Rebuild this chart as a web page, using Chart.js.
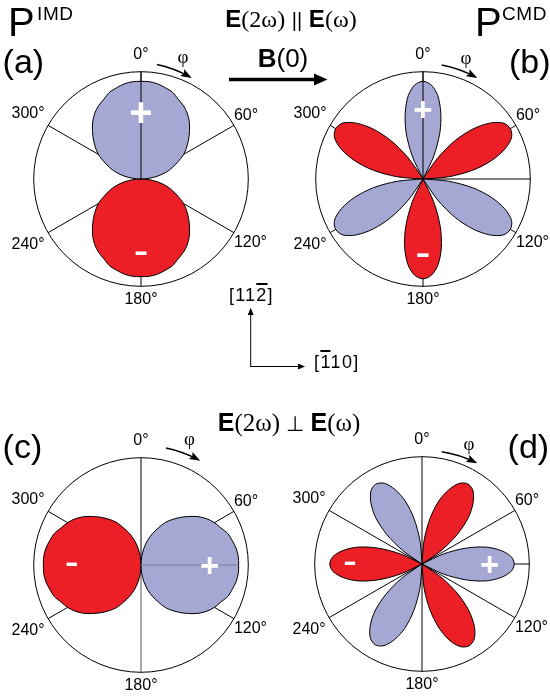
<!DOCTYPE html>
<html>
<head>
<meta charset="utf-8">
<script src="https://cdn.jsdelivr.net/npm/chart.js@4.4.1/dist/chart.umd.min.js"></script>
<style>
  body { margin: 0; background: #fff; }
  #fig { position: relative; width: 550px; height: 699px; overflow: hidden; background: #fff; }
  canvas { position: absolute; }
  svg { position: absolute; left: 0; top: 0; }
  .t { position: absolute; line-height: 1; white-space: nowrap; color: #000;
       font-family: 'Liberation Sans', Arial, sans-serif; }
  .c { transform: translateX(-50%); }
  .s { font-family: 'Liberation Serif', 'Times New Roman', serif; }
  .ov { text-decoration: overline; text-decoration-thickness: 2px; }
</style>
</head>
<body>
<div id="fig">
  <canvas id="chartA" width="310" height="269" style="left:-14px;top:43px"></canvas>
  <canvas id="chartB" width="310" height="269" style="left:268px;top:43px"></canvas>
  <canvas id="chartC" width="310" height="269" style="left:-14px;top:429px"></canvas>
  <canvas id="chartD" width="310" height="269" style="left:267px;top:428px"></canvas>

  <svg width="550" height="699">
    <defs>
      <marker id="hd" markerUnits="userSpaceOnUse" markerWidth="11" markerHeight="8" refX="9" refY="4" orient="auto">
        <path d="M0,0 L11,4 L0,8 L2,4 z" fill="#000"/>
      </marker>
      <marker id="hs" markerUnits="userSpaceOnUse" markerWidth="7" markerHeight="6" refX="6" refY="3" orient="auto">
        <path d="M0,0 L7,3 L0,6 z" fill="#000"/>
      </marker>
    </defs>
    <g stroke="#000" fill="none" stroke-width="1.4">
      <path d="M157,64.5 A115,115 0 0 1 190,77" marker-end="url(#hd)"/>
      <path d="M441.7,65 A115,115 0 0 1 475.5,77" marker-end="url(#hd)"/>
      <path d="M166,448 A120,120 0 0 1 198.5,459.8" marker-end="url(#hd)"/>
      <path d="M441.7,451.7 A115,115 0 0 1 475.5,462.4" marker-end="url(#hd)"/>
    </g>
    <line x1="229" y1="79.5" x2="316" y2="79.5" stroke="#000" stroke-width="3.5"/>
    <polygon points="314,73.5 327.5,79.5 314,85.5" fill="#000"/>
    <g stroke="#000" fill="none" stroke-width="1">
      <path d="M250.7,366.5 V309" marker-end="url(#hs)"/>
      <path d="M250.2,366.5 H304" marker-end="url(#hs)"/>
    </g>
  </svg>

  <div class="t" style="left:8px;top:1.5px;font-size:40px">P</div>
  <div class="t" style="left:37px;top:4.2px;font-size:19px;letter-spacing:0.6px">IMD</div>
  <div class="t" style="left:475px;top:1.5px;font-size:40px">P</div>
  <div class="t" style="left:502px;top:4.2px;font-size:19px;letter-spacing:0.6px">CMD</div>

  <div class="t c" style="left:291px;top:6.5px;font-size:24px"><b>E</b><span class="s">(2ω)</span> <span style="font-size:20px">||</span> <b>E</b><span class="s">(ω)</span></div>
  <div class="t c" style="left:283px;top:45px;font-size:26px"><b>B</b>(0)</div>
  <div class="t c" style="left:289px;top:410px;font-size:25px"><b>E</b><span class="s">(2ω) </span><span style="font-size:21px">⊥</span><span class="s"> </span><b>E</b><span class="s">(ω)</span></div>

  <div class="t" style="left:2.6px;top:44.3px;font-size:34px">(a)</div>
  <div class="t" style="left:509px;top:44.3px;font-size:34px">(b)</div>
  <div class="t" style="left:2.6px;top:429px;font-size:34px">(c)</div>
  <div class="t" style="left:507.6px;top:429px;font-size:34px">(d)</div>

  <div class="t s c" style="left:183px;top:47px;font-size:19px">φ</div>
  <div class="t s c" style="left:466px;top:47.5px;font-size:19px">φ</div>
  <div class="t s c" style="left:189.5px;top:429px;font-size:19px">φ</div>
  <div class="t s c" style="left:469px;top:434px;font-size:19px">φ</div>

  <div class="t" style="left:229px;top:285.5px;font-size:18px;letter-spacing:1.2px">[11<span class="ov">2</span>]</div>
  <div class="t" style="left:314px;top:353px;font-size:18px;letter-spacing:1.4px">[<span class="ov">1</span>10]</div>
</div>

<script>
// polar angle in degrees, clockwise from the top
const angles = [
  0, 5, 10, 15, 20, 25, 30, 35, 40, 45, 50, 55,
  60, 65, 70, 75, 80, 85, 90, 95, 100, 105, 110, 115,
  120, 125, 130, 135, 140, 145, 150, 155, 160, 165, 170, 175,
  180, 185, 190, 195, 200, 205, 210, 215, 220, 225, 230, 235,
  240, 245, 250, 255, 260, 265, 270, 275, 280, 285, 290, 295,
  300, 305, 310, 315, 320, 325, 330, 335, 340, 345, 350, 355
];
const angleTicks = [0, 60, 120, 180, 240, 300];

// (a) P_IMD, E(2w) || E(w)
const imdParPos = [
  0.91, 0.91, 0.90, 0.88, 0.86, 0.82, 0.79, 0.75, 0.70, 0.64, 0.58, 0.52,
  0.46, 0.38, 0.31, 0.24, 0.16, 0.08, 0, 0, 0, 0, 0, 0,
  0, 0, 0, 0, 0, 0, 0, 0, 0, 0, 0, 0,
  0, 0, 0, 0, 0, 0, 0, 0, 0, 0, 0, 0,
  0, 0, 0, 0, 0, 0, 0, 0.08, 0.16, 0.24, 0.31, 0.38,
  0.46, 0.52, 0.58, 0.64, 0.70, 0.75, 0.79, 0.82, 0.86, 0.88, 0.90, 0.91
];
const imdParNeg = [
  0, 0, 0, 0, 0, 0, 0, 0, 0, 0, 0, 0,
  0, 0, 0, 0, 0, 0, 0, 0.08, 0.16, 0.24, 0.31, 0.38,
  0.46, 0.52, 0.58, 0.64, 0.70, 0.75, 0.79, 0.82, 0.86, 0.88, 0.90, 0.91,
  0.91, 0.91, 0.90, 0.88, 0.86, 0.82, 0.79, 0.75, 0.70, 0.64, 0.58, 0.52,
  0.46, 0.38, 0.31, 0.24, 0.16, 0.08, 0, 0, 0, 0, 0, 0,
  0, 0, 0, 0, 0, 0, 0, 0, 0, 0, 0, 0
];

// (b) P_CMD, E(2w) || E(w)
const cmdParPos = [
  0.91, 0.88, 0.79, 0.64, 0.46, 0.24, 0, 0, 0, 0, 0, 0,
  0, 0, 0, 0, 0, 0, 0, 0.24, 0.47, 0.66, 0.81, 0.91,
  0.94, 0.91, 0.81, 0.66, 0.47, 0.24, 0, 0, 0, 0, 0, 0,
  0, 0, 0, 0, 0, 0, 0, 0.24, 0.47, 0.66, 0.81, 0.91,
  0.94, 0.91, 0.81, 0.66, 0.47, 0.24, 0, 0, 0, 0, 0, 0,
  0, 0, 0, 0, 0, 0, 0, 0.24, 0.46, 0.64, 0.79, 0.88
];
const cmdParNeg = [
  0, 0, 0, 0, 0, 0, 0, 0.24, 0.47, 0.66, 0.81, 0.91,
  0.94, 0.91, 0.81, 0.66, 0.47, 0.24, 0, 0, 0, 0, 0, 0,
  0, 0, 0, 0, 0, 0, 0, 0.24, 0.47, 0.66, 0.81, 0.90,
  0.93, 0.90, 0.81, 0.66, 0.47, 0.24, 0, 0, 0, 0, 0, 0,
  0, 0, 0, 0, 0, 0, 0, 0.24, 0.47, 0.66, 0.81, 0.91,
  0.94, 0.91, 0.81, 0.66, 0.47, 0.24, 0, 0, 0, 0, 0, 0
];

// (c) P_IMD, E(2w) perpendicular E(w)
const imdPerpPos = [
  0, 0.08, 0.16, 0.24, 0.31, 0.38, 0.46, 0.52, 0.58, 0.64, 0.70, 0.75,
  0.79, 0.82, 0.86, 0.88, 0.90, 0.91, 0.91, 0.91, 0.90, 0.88, 0.86, 0.82,
  0.79, 0.75, 0.70, 0.64, 0.58, 0.52, 0.46, 0.38, 0.31, 0.24, 0.16, 0.08,
  0, 0, 0, 0, 0, 0, 0, 0, 0, 0, 0, 0,
  0, 0, 0, 0, 0, 0, 0, 0, 0, 0, 0, 0,
  0, 0, 0, 0, 0, 0, 0, 0, 0, 0, 0, 0
];
const imdPerpNeg = [
  0, 0, 0, 0, 0, 0, 0, 0, 0, 0, 0, 0,
  0, 0, 0, 0, 0, 0, 0, 0, 0, 0, 0, 0,
  0, 0, 0, 0, 0, 0, 0, 0, 0, 0, 0, 0,
  0, 0.08, 0.16, 0.24, 0.31, 0.38, 0.46, 0.52, 0.58, 0.64, 0.70, 0.75,
  0.79, 0.82, 0.86, 0.88, 0.90, 0.91, 0.91, 0.91, 0.90, 0.88, 0.86, 0.82,
  0.79, 0.75, 0.70, 0.64, 0.58, 0.52, 0.46, 0.38, 0.31, 0.24, 0.16, 0.08
];

// (d) P_CMD, E(2w) perpendicular E(w)
const cmdPerpPos = [
  0, 0, 0, 0, 0, 0, 0, 0, 0, 0, 0, 0,
  0, 0.22, 0.43, 0.61, 0.74, 0.83, 0.86, 0.83, 0.74, 0.61, 0.43, 0.22,
  0, 0, 0, 0, 0, 0, 0, 0, 0, 0, 0, 0,
  0, 0.23, 0.44, 0.62, 0.75, 0.84, 0.87, 0.84, 0.75, 0.62, 0.44, 0.23,
  0, 0, 0, 0, 0, 0, 0, 0, 0, 0, 0, 0,
  0, 0.22, 0.43, 0.61, 0.74, 0.83, 0.86, 0.83, 0.74, 0.61, 0.43, 0.22
];
const cmdPerpNeg = [
  0, 0.22, 0.43, 0.61, 0.74, 0.83, 0.86, 0.83, 0.74, 0.61, 0.43, 0.22,
  0, 0, 0, 0, 0, 0, 0, 0, 0, 0, 0, 0,
  0, 0.23, 0.44, 0.62, 0.76, 0.85, 0.88, 0.85, 0.76, 0.62, 0.44, 0.23,
  0, 0, 0, 0, 0, 0, 0, 0, 0, 0, 0, 0,
  0, 0.22, 0.43, 0.61, 0.74, 0.83, 0.86, 0.83, 0.74, 0.61, 0.43, 0.22,
  0, 0, 0, 0, 0, 0, 0, 0, 0, 0, 0, 0
];

const BLUE = '#a6a8d4';
const RED = '#ec1f26';
const FONT = "'Liberation Sans', Arial, sans-serif";

// lines and +/- signs drawn on top of the lobes
const overlayPlugin = {
  id: 'overlay',
  afterDatasetsDraw(chart, args, opts) {
    const r = chart.scales.r;
    const ctx = chart.ctx;
    ctx.save();
    (opts.lines || []).forEach(l => {
      const i = angles.indexOf(l.angle);
      const p0 = r.getPointPositionForValue(i, 0);
      const p1 = r.getPointPositionForValue(i, l.to);
      ctx.strokeStyle = l.color;
      ctx.lineWidth = l.width;
      ctx.beginPath();
      ctx.moveTo(p0.x, p0.y);
      ctx.lineTo(p1.x, p1.y);
      ctx.stroke();
    });
    ctx.fillStyle = '#fff';
    ctx.textAlign = 'center';
    ctx.textBaseline = 'alphabetic';
    (opts.signs || []).forEach(s => {
      const p = r.getPointPositionForValue(angles.indexOf(s.angle), s.r);
      ctx.font = s.weight + ' ' + s.size + 'px ' + FONT;
      ctx.fillText(s.text, p.x, p.y + s.size * s.mid);
    });
    ctx.restore();
  }
};

function plus(angle, r, size) { return { text: '+', angle, r, size, weight: 'bold', mid: 0.35 }; }
function minus(angle, r, size) { return { text: '-', angle, r, size, weight: 'normal', mid: 0.265 }; }

// padding between ring and angle label
function labelPad(a) {
  if (a === 0) return 7.5;
  if (a === 180) return 3.5;
  if (a === 240 || a === 300) return 4;
  return 0;
}

function polarChart(id, pos, neg, lineAngles, lineColor, overlay) {
  return new Chart(id, {
    type: 'radar',
    data: {
      labels: angles,
      datasets: [
        { data: pos, backgroundColor: BLUE, borderColor: '#000', borderWidth: 1, fill: true, pointRadius: 0 },
        { data: neg, backgroundColor: RED, borderColor: '#000', borderWidth: 1, fill: true, pointRadius: 0 }
      ]
    },
    options: {
      responsive: false,
      animation: false,
      events: [],
      plugins: { legend: { display: false }, tooltip: { enabled: false }, overlay: overlay },
      elements: { line: { tension: 0.3, borderJoinStyle: 'round' } },
      scales: {
        r: {
          min: 0,
          max: 1,
          startAngle: 0,
          ticks: { display: false, stepSize: 1 },
          grid: { circular: true, color: '#000', lineWidth: 1 },
          angleLines: {
            color: ctx => lineColor(angles[ctx.index]),
            lineWidth: ctx => lineAngles.includes(angles[ctx.index]) ? 1 : 0
          },
          pointLabels: {
            callback: v => angleTicks.includes(v) ? v + '°' : '',
            padding: ctx => labelPad(angles[ctx.index]),
            font: { family: FONT, size: 16 },
            color: '#000'
          }
        }
      }
    },
    plugins: [overlayPlugin]
  });
}

const black = () => '#000';

polarChart('chartA', imdParPos, imdParNeg, [0, 60, 120, 180, 240, 300], black, {
  lines: [{ angle: 0, to: 1, color: '#000', width: 1 }],
  signs: [plus(0, 0.62, 40), minus(180, 0.69, 44)]
});
polarChart('chartB', cmdParPos, cmdParNeg, [0, 60, 90, 120, 180, 240, 300], black, {
  lines: [{ angle: 0, to: 1, color: '#000', width: 1 }],
  signs: [plus(0, 0.65, 33), minus(180, 0.72, 46)]
});
polarChart('chartC', imdPerpPos, imdPerpNeg, [0, 60, 120, 180, 240, 300], a => a === 180 ? '#555' : '#000', {
  lines: [{ angle: 90, to: 0.91, color: '#777', width: 0.8 }],
  signs: [plus(90, 0.64, 33), minus(270, 0.645, 42)]
});
polarChart('chartD', cmdPerpPos, cmdPerpNeg, [0, 60, 90, 120, 180, 240, 300], black, {
  lines: [],
  signs: [plus(90, 0.63, 33), minus(270, 0.67, 42)]
});
</script>
</body>
</html>
